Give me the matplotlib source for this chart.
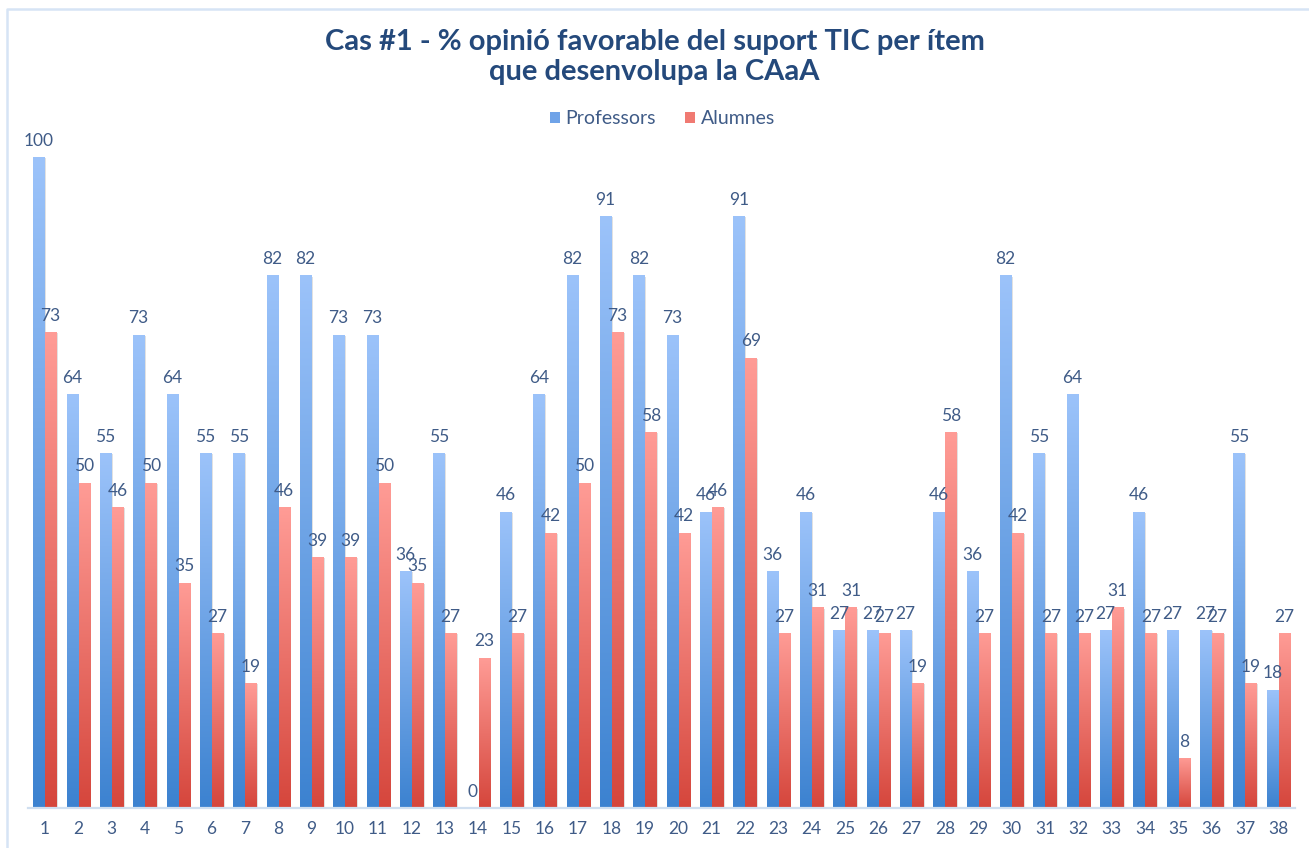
import math
import numpy as np
import matplotlib
matplotlib.use("Agg")
import matplotlib.pyplot as plt
from matplotlib.colors import LinearSegmentedColormap
from matplotlib.patches import Patch
from matplotlib.lines import Line2D
import matplotlib.patheffects as pe

items = list(range(1, 39))
professors = [100, 63.6, 54.5, 72.7, 63.6, 54.5, 54.5, 81.8, 81.8, 72.7,
              72.7, 36.4, 54.5, 0, 45.5, 63.6, 81.8, 90.9, 81.8, 72.7,
              45.5, 90.9, 36.4, 45.5, 27.3, 27.3, 27.3, 45.5, 36.4, 81.8,
              54.5, 63.6, 27.3, 45.5, 27.3, 27.3, 54.5, 18.2]
alumnes = [73.1, 50.0, 46.2, 50.0, 34.6, 26.9, 19.2, 46.2, 38.5, 38.5,
           50.0, 34.6, 26.9, 23.1, 26.9, 42.3, 50.0, 73.1, 57.7, 42.3,
           46.2, 69.2, 26.9, 30.8, 30.8, 26.9, 19.2, 57.7, 26.9, 42.3,
           26.9, 26.9, 30.8, 26.9, 7.7, 26.9, 19.2, 26.9]
series_names = ["Professors", "Alumnes"]
title = "Cas #1 - % opinió favorable del suport TIC per ítem\nque desenvolupa la CAaA"

plt.rcParams['font.family'] = ['Lato', 'DejaVu Sans']

W, H = 1309, 848
fig = plt.figure(figsize=(W / 100, H / 100), dpi=100)
fig.patch.set_facecolor('white')

ax_left, ax_right = 28 / W, 1295 / W
base_y = 808
px_per_unit = 6.51
ymax = 110
top_y = base_y - ymax * px_per_unit
ax = fig.add_axes([ax_left, (H - base_y) / H, ax_right - ax_left, (base_y - top_y) / H])

blue_cmap = LinearSegmentedColormap.from_list('b', ['#3C82D0', '#9CC3FA'])
red_cmap = LinearSegmentedColormap.from_list('r', ['#D5463C', '#FF9C96'])
grad = np.linspace(0, 1, 256).reshape(-1, 1)

x = np.array(items, dtype=float)
bw = 0.33
gap = 0.015
label_color = '#3F5B87'

for vals, offs, cmap, mid in [(professors, -bw / 2 - gap, blue_cmap, '#6FA3E8'),
                              (alumnes, bw / 2 + gap, red_cmap, '#F07A72')]:
    bars = ax.bar(x + offs, vals, width=bw, color=mid, linewidth=0, zorder=2)
    for b, v in zip(bars, vals):
        b.set_path_effects([pe.SimplePatchShadow(offset=(1.2, -0.8), shadow_rgbFace='#888888', alpha=0.25),
                            pe.Normal()])
        if v > 0:
            x0 = b.get_x()
            im = ax.imshow(grad, cmap=cmap, origin='lower', aspect='auto',
                           extent=[x0, x0 + b.get_width(), 0, v],
                           interpolation='bicubic', zorder=3)
            im.set_clip_path(b)
        ax.annotate(str(int(math.floor(v + 0.5))), (b.get_x() + b.get_width() / 2, v),
                    xytext=(0, 6), textcoords='offset points', ha='center', va='bottom',
                    fontsize=12.5, color=label_color, zorder=5, annotation_clip=False)

ax.set_xlim(0.5, 38.5)
ax.set_ylim(0, ymax)
for s in ['top', 'right', 'left']:
    ax.spines[s].set_visible(False)
ax.spines['bottom'].set_color('#D0DFF0')
ax.spines['bottom'].set_linewidth(1.6)
ax.spines['bottom'].set_zorder(4)
ax.set_yticks([])
ax.set_xticks(x)
ax.set_xticklabels([str(i) for i in items], fontsize=12.5, color=label_color)
ax.tick_params(axis='x', length=0, pad=9)
ax.set_facecolor('none')

fig.text(0.5, 1 - 57 / H, title, ha='center', va='center', fontsize=21,
         fontweight='bold', color='#24497B', linespacing=1.2)

handles = [Patch(facecolor='#6FA3E8', edgecolor='none'), Patch(facecolor='#F07A72', edgecolor='none')]
leg = fig.legend(handles, series_names, loc='center', bbox_to_anchor=(0.506, 1 - 119 / H),
                 ncol=2, frameon=False, fontsize=14, handlelength=0.5, handleheight=0.5,
                 handletextpad=0.3, columnspacing=1.5, borderpad=0)
for t in leg.get_texts():
    t.set_color(label_color)

fig.add_artist(Line2D([7 / W, 7 / W, 1.0], [0.0, 1 - 9 / H, 1 - 9 / H],
                      transform=fig.transFigure, color='#D6E4F5', linewidth=1.8))

fig.savefig('out.png', dpi=100, facecolor='white')
